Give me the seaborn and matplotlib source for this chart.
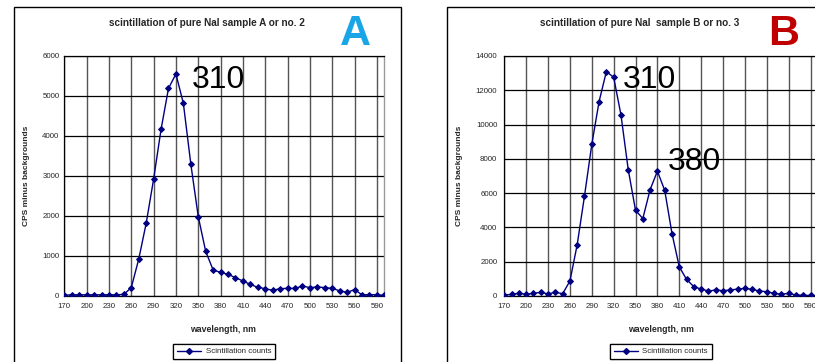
import matplotlib
matplotlib.use("Agg")
import matplotlib.pyplot as plt
import seaborn as sns
import pandas as pd
from matplotlib.patches import Rectangle
from matplotlib.lines import Line2D

# ---------------- data ----------------
wavelength = list(range(170, 610, 10))  # 170 ... 600 nm

counts_a = [20, 30, 30, 30, 30, 30, 30, 30, 40, 210,
            920, 1815, 2920, 4165, 5190, 5550, 4815, 3300, 1985, 1115,
            650, 590, 540, 460, 375, 290, 215, 185, 140, 185,
            190, 190, 250, 210, 225, 210, 190, 130, 90, 160,
            30, 35, 30, 15]

counts_b = [50, 100, 155, 100, 155, 215, 120, 215, 135, 870,
            3000, 5835, 8840, 11345, 13090, 12760, 10570, 7370, 5000, 4520,
            6205, 7280, 6165, 3645, 1705, 970, 540, 405, 290, 350,
            310, 350, 405, 445, 390, 290, 250, 155, 100, 155,
            60, 40, 30, 20]

xtick_vals = list(range(170, 600, 30))
yticks_a = list(range(0, 7000, 1000))
yticks_b = list(range(0, 16000, 2000))

title_a = "scintillation of pure NaI sample A or no. 2"
title_b = "scintillation of pure NaI  sample B or no. 3"
series_name = "Scintillation counts"

# ---------------- style ----------------
sns.set_style("white")
plt.rcParams['font.family'] = ['Liberation Sans', 'DejaVu Sans']

W, H = 815, 362
fig = plt.figure(figsize=(W / 100, H / 100), dpi=100)


def fx(px):
    return px / W


def fy(py):
    return 1 - py / H


line_color = '#000080'

# chart frames
fig.patches.append(Rectangle((fx(14), fy(375)), fx(401) - fx(14), fy(7) - fy(375),
                             transform=fig.transFigure, fill=False, edgecolor='black',
                             linewidth=1.0, clip_on=False))
fig.patches.append(Rectangle((fx(447), fy(375)), fx(830) - fx(447), fy(7) - fy(375),
                             transform=fig.transFigure, fill=False, edgecolor='black',
                             linewidth=1.0, clip_on=False))


def make_panel(left_px, right_px, counts, yticks, ymax, title, title_x, ylab_x_px,
               xlab_x_px, ypad):
    top_px, bot_px = 56, 296
    ax = fig.add_axes([fx(left_px), fy(bot_px), fx(right_px) - fx(left_px),
                       fy(top_px) - fy(bot_px)])
    df = pd.DataFrame({"wavelength": wavelength, "counts": counts})
    sns.lineplot(data=df, x="wavelength", y="counts", ax=ax, color=line_color,
                 linewidth=1.0, marker='D', markersize=3.0, markeredgecolor=line_color,
                 markerfacecolor=line_color, legend=False, zorder=3)
    ax.set_xlim(170, 600)
    ax.set_ylim(0, ymax)
    ax.set_xticks(xtick_vals)
    ax.set_xticklabels([str(v) for v in xtick_vals], fontsize=5.7)
    ax.set_yticks(yticks)
    ax.set_yticklabels([str(v) for v in yticks], fontsize=5.7)
    ax.tick_params(axis='both', length=0)
    ax.tick_params(axis='x', pad=5)
    ax.tick_params(axis='y', pad=ypad)
    ax.grid(True, axis='x', color='#555555', linewidth=1.0)
    ax.grid(True, axis='y', color='black', linewidth=0.9)
    ax.set_axisbelow(True)
    for s in ['left', 'bottom', 'top']:
        ax.spines[s].set_color('black')
        ax.spines[s].set_linewidth(0.9)
    ax.spines['right'].set_color('#999999')
    ax.spines['right'].set_linewidth(1.0)
    ax.set_xlabel("wavelength, nm", fontsize=6.3, fontweight='bold')
    ax.xaxis.set_label_coords((xlab_x_px - left_px) / (right_px - left_px),
                              -(325 - bot_px) / 240)
    ax.set_ylabel("CPS minus backgrounds", fontsize=6, fontweight='bold')
    ax.yaxis.set_label_coords((ylab_x_px - left_px) / (right_px - left_px), 0.5)
    fig.text(fx(title_x), fy(23), title, fontsize=7.2, fontweight='bold',
             ha='center', va='center')
    return ax


ax_a = make_panel(64.3, 384.3, counts_a, yticks_a, 6000, title_a, 207, 30, 223, 3.5)
ax_b = make_panel(504.3, 817.8, counts_b, yticks_b, 14000, title_b, 640, 463, 661, 5)

# big panel letters
fig.text(fx(355), fy(45), "A", fontsize=31, fontweight='bold', color='#1AA6E6',
         ha='center', va='baseline')
fig.text(fx(784), fy(45), "B", fontsize=31, fontweight='bold', color='#C00000',
         ha='center', va='baseline')

# peak annotations
fig.text(fx(192), fy(88), "310", fontsize=23, ha='left', va='baseline', color='black')
fig.text(fx(623), fy(88), "310", fontsize=23, ha='left', va='baseline', color='black')
fig.text(fx(668), fy(170), "380", fontsize=23, ha='left', va='baseline', color='black')

# legends
handle = Line2D([0], [0], color=line_color, linewidth=1.0, marker='D', markersize=3.0)
for cx in (224, 661):
    leg = fig.legend([handle], [series_name], loc='center', bbox_to_anchor=(fx(cx), fy(351.5)),
                     fontsize=5.7, frameon=True, fancybox=False, framealpha=1,
                     edgecolor='black', handlelength=3.0, borderpad=0.5,
                     handletextpad=0.6)
    leg.get_frame().set_linewidth(0.9)
    fig.add_artist(leg)

fig.savefig("out.png", dpi=100)
